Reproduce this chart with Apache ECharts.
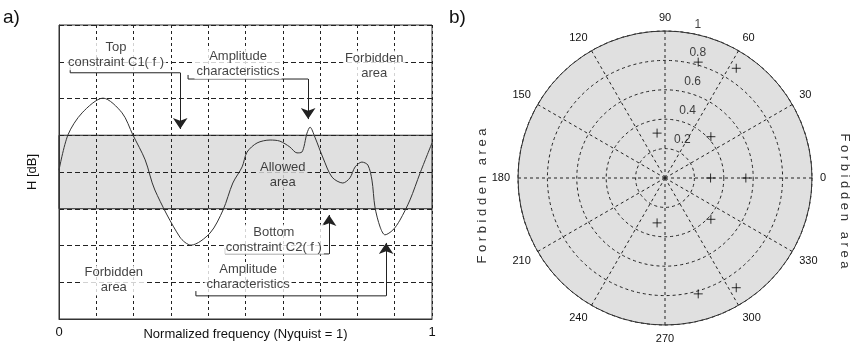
<!DOCTYPE html>
<html>
<head>
<meta charset="utf-8">
<script src="https://cdn.jsdelivr.net/npm/echarts@6/dist/echarts.min.js"></script>
<style>
  html, body { margin: 0; padding: 0; background: #fff; }
  #chart { width: 851px; height: 347px; }
</style>
</head>
<body>
<div id="chart"></div>
<script>
// a) amplitude characteristic
const freq = [0, 0.024, 0.062, 0.118, 0.169, 0.198, 0.231, 0.257, 0.324, 0.354, 0.405, 0.44, 0.466, 0.491, 0.504,
  0.531, 0.566, 0.592, 0.619, 0.638, 0.651, 0.665, 0.673, 0.686, 0.708, 0.732, 0.761, 0.78, 0.794, 0.812,
  0.828, 0.839, 0.847, 0.861, 0.874, 0.895, 0.914, 0.941, 0.968, 1]
const gain = [4.05, 5.01, 5.61, 6.01, 5.61, 5.01, 4.33, 3.51, 2.23, 2.01, 2.34, 2.97, 3.70, 4.14, 4.54,
  4.79, 4.87, 4.84, 4.68, 4.52, 4.54, 5.06, 5.22, 4.95, 4.38, 3.86, 3.70, 3.84, 4.14, 4.27,
  4.19, 3.78, 3.05, 2.50, 2.29, 2.42, 2.69, 3.24, 3.97, 4.79]
const bottomConstraint = 3
const topConstraint = 5

// b) zeros on the polar plot
const zeroRadius = [0.82, 0.89, 0.31, 0.42, 0.31, 0.55, 0.31, 0.42, 0.82, 0.89]
const zeroAngle = [74, 57, 100, 42, 0, 0, 260, 318, 286, 303]
const ringTicks = [0.2, 0.4, 0.6, 0.8, 1]

const FONT = "'Liberation Sans', Arial, sans-serif"
const INK = '#111'
const BAND = '#e0e0e0'
const POLAR_CENTER = [665, 178]
const POLAR_R = 147

// annotations, in data units of the left plot
const notes = [
  { text: 'Top\nconstraint C1( f )', at: [0.153, 7.18] },
  { text: 'Amplitude\ncharacteristics', at: [0.48, 6.93] },
  { text: 'Forbidden\narea', at: [0.845, 6.9] },
  { text: 'Allowed\narea', at: [0.6, 3.93], bg: BAND },
  { text: 'Bottom\nconstraint C2( f )', at: [0.576, 2.16] },
  { text: 'Forbidden\narea', at: [0.147, 1.05] },
  { text: 'Amplitude\ncharacteristics', at: [0.507, 1.14] }
]
const brackets = [
  [[0.03, 6.85], [0.03, 6.7], [0.325, 6.7], [0.325, 5.17]],
  [[0.346, 6.64], [0.346, 6.53], [0.668, 6.53], [0.668, 5.44]],
  [[0.445, 1.93], [0.445, 1.77], [0.724, 1.77], [0.724, 2.83]],
  [[0.367, 0.76], [0.367, 0.63], [0.877, 0.63], [0.877, 2.07]]
]

const chart = echarts.init(document.getElementById('chart'), null, { renderer: 'canvas' })

const dashed = (d) => ({ show: true, lineStyle: { color: '#222', type: d, width: 1 } })

const option = {
  animation: false,
  backgroundColor: '#fff',
  textStyle: { fontFamily: FONT },
  graphic: [
    { type: 'text', left: 3, top: 8, style: { text: 'a)', font: '19px ' + FONT, fill: INK } },
    { type: 'text', left: 449, top: 8, style: { text: 'b)', font: '19px ' + FONT, fill: INK } },
    {
      type: 'text', x: 482, y: 196, rotation: Math.PI / 2,
      style: { text: 'F o r b i d d e n   a r e a', font: '13px ' + FONT, fill: '#333', align: 'center', verticalAlign: 'middle' }
    },
    {
      type: 'text', x: 845, y: 201, rotation: -Math.PI / 2,
      style: { text: 'F o r b i d d e n   a r e a', font: '13px ' + FONT, fill: '#333', align: 'center', verticalAlign: 'middle' }
    }
  ],
  grid: {
    left: 59, top: 25, width: 373, height: 294,
    outerBoundsMode: 'none', containLabel: false,
    show: true, borderColor: '#333', borderWidth: 1, backgroundColor: '#fff'
  },
  xAxis: {
    type: 'value', min: 0, max: 1, interval: 0.1, z: 1.5,
    name: 'Normalized frequency (Nyquist = 1)', nameLocation: 'middle', nameGap: 9,
    nameMoveOverlap: false,
    nameTextStyle: { fontSize: 13, color: INK },
    axisLine: { lineStyle: { color: '#333' } },
    axisTick: { show: false },
    axisLabel: {
      fontSize: 13, color: INK, margin: 7,
      formatter: v => (Math.abs(v) < 1e-9 || Math.abs(v - 1) < 1e-9) ? String(Math.round(v)) : ''
    },
    splitLine: dashed([3, 3])
  },
  yAxis: {
    type: 'value', min: 0, max: 8, interval: 1, z: 1.5,
    name: 'H [dB]', nameLocation: 'middle', nameGap: 20,
    nameMoveOverlap: false,
    nameTextStyle: { fontSize: 13, color: INK },
    axisLine: { show: true, lineStyle: { color: '#333' } },
    axisTick: { show: false },
    axisLabel: { show: false },
    splitLine: dashed([5, 3])
  },
  // polar 0 only paints the grey disc, polar 1 carries the dashed grid and labels
  polar: [
    { center: POLAR_CENTER, radius: POLAR_R },
    { center: POLAR_CENTER, radius: POLAR_R }
  ],
  angleAxis: [
    {
      polarIndex: 0, type: 'value', min: 0, max: 360, interval: 30, startAngle: 0, clockwise: false, z: 0,
      axisLine: { show: false }, axisTick: { show: false }, axisLabel: { show: false }, splitLine: { show: false }
    },
    {
      polarIndex: 1, type: 'value', min: 0, max: 360, interval: 30, startAngle: 0, clockwise: false, z: 1,
      axisLine: { show: true, lineStyle: { color: '#333', width: 1 } },
      axisTick: { show: false },
      axisLabel: { fontSize: 11, color: INK, margin: 8, formatter: v => (v === 360 ? '' : String(v)) },
      splitLine: dashed([3, 3])
    }
  ],
  radiusAxis: [
    {
      polarIndex: 0, type: 'value', min: 0, max: 1, interval: 0.2, z: 0,
      axisLine: { show: false }, axisTick: { show: false }, axisLabel: { show: false },
      splitLine: { show: false },
      splitArea: { show: true, areaStyle: { color: [BAND] } }
    },
    {
      polarIndex: 1, type: 'value', min: 0, max: 1, interval: 0.2, z: 1,
      axisLine: { show: false }, axisTick: { show: false }, axisLabel: { show: false },
      splitLine: dashed([3, 3]),
      splitArea: { show: false }
    }
  ],
  series: [
    {
      name: 'amplitude',
      type: 'line',
      xAxisIndex: 0, yAxisIndex: 0,
      data: freq.map((f, i) => [f, gain[i]]),
      smooth: 0.3,
      showSymbol: false,
      lineStyle: { color: '#333', width: 1 },
      markArea: {
        silent: true,
        itemStyle: { color: BAND, borderColor: '#222', borderWidth: 1 },
        data: [[{ yAxis: bottomConstraint }, { yAxis: topConstraint }]]
      }
    },
    {
      name: 'bracket bodies',
      type: 'lines',
      coordinateSystem: 'cartesian2d',
      polyline: true,
      silent: true,
      lineStyle: { color: '#222', width: 1, opacity: 1 },
      data: brackets.map(b => ({ coords: b.slice(0, 3) }))
    },
    {
      name: 'bracket arrows',
      type: 'lines',
      coordinateSystem: 'cartesian2d',
      silent: true,
      symbol: ['none', 'arrow'],
      symbolSize: 11,
      lineStyle: { color: '#222', width: 1, opacity: 1 },
      data: brackets.map(b => ({ coords: b.slice(2, 4) }))
    },
    {
      name: 'notes',
      type: 'scatter',
      xAxisIndex: 0, yAxisIndex: 0,
      symbolSize: 0,
      silent: true,
      z: 4,
      data: notes.map(n => ({
        name: n.text,
        value: n.at,
        label: n.bg ? { backgroundColor: n.bg } : undefined
      })),
      label: {
        show: true, position: 'inside', formatter: '{b}',
        fontSize: 13, lineHeight: 15, color: INK, align: 'center',
        backgroundColor: '#fff', padding: [0, 2]
      }
    },
    {
      name: 'zeros',
      type: 'scatter',
      coordinateSystem: 'polar',
      polarIndex: 1,
      symbol: 'path://M0,5 L10,5 M5,0 L5,10',
      symbolSize: 9,
      silent: true,
      z: 3,
      itemStyle: { color: 'rgba(0,0,0,0)', borderColor: '#000', borderWidth: 1 },
      data: zeroRadius.map((r, i) => [r, zeroAngle[i]])
    },
    {
      name: 'ring labels',
      type: 'scatter',
      coordinateSystem: 'polar',
      polarIndex: 1,
      symbolSize: 0,
      silent: true,
      z: 3,
      data: ringTicks.map(r => [r, 80]),
      label: {
        show: true, position: [4, -9], align: 'left', verticalAlign: 'middle',
        fontSize: 12, color: INK,
        formatter: p => String(p.value[0])
      }
    }
  ]
}

chart.setOption(option)
</script>
</body>
</html>
